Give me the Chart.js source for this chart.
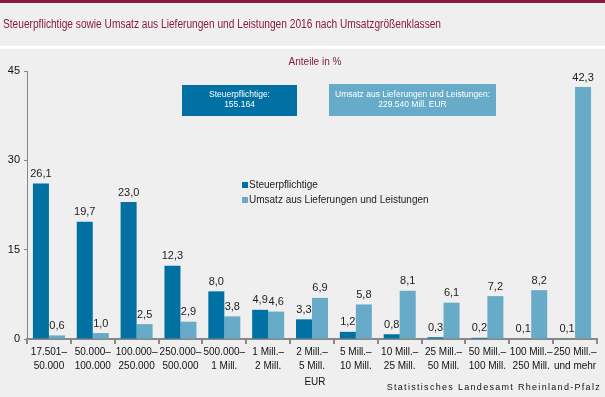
<!DOCTYPE html>
<html>
<head>
<meta charset="utf-8">
<script src="https://cdn.jsdelivr.net/npm/chart.js@4"></script>
<style>
  html, body { margin: 0; padding: 0; background: #eeefee; }
  #wrap { width: 605px; height: 397px; position: relative; }
</style>
</head>
<body>
<div id="wrap"><canvas id="umsatzChart"></canvas></div>
<script>
const categories = [
    ["17.501–", "50.000"], ["50.000–", "100.000"], ["100.000–", "250.000"],
    ["250.000–", "500.000"], ["500.000–", "1 Mill."], ["1 Mill.–", "2 Mill."],
    ["2 Mill.–", "5 Mill."], ["5 Mill.–", "10 Mill."], ["10 Mill.–", "25 Mill."],
    ["25 Mill.–", "50 Mill."], ["50 Mill.–", "100 Mill."], ["100 Mill.–", "250 Mill."],
    ["250 Mill.–", "und mehr"]
];
const steuerpflichtige = [26.1, 19.7, 23.0, 12.3, 8.0, 4.9, 3.3, 1.2, 0.8, 0.3, 0.2, 0.1, 0.1];
const umsatz = [0.6, 1.0, 2.5, 2.9, 3.8, 4.6, 6.9, 5.8, 8.1, 6.1, 7.2, 8.2, 42.3];
const yTicks = [0, 15, 30, 45];

const darkBlue = "#0071a2";
const lightBlue = "#67abc9";
const maroon = "#8a1c3c";

const fmt = v => v.toFixed(1).replace(".", ",");

// background, title, boxes, legend, source
const decor = {
    id: "decor",
    beforeDraw(chart) {
        const c = chart.ctx;
        c.save();
        c.fillStyle = "#eeefee";
        c.fillRect(0, 0, chart.width, chart.height);
        c.fillStyle = maroon;
        c.fillRect(0, 0, chart.width, 3);
        c.fillStyle = "#ffffff";
        c.fillRect(0, 46, chart.width, 3);
        c.restore();
    },
    afterDraw(chart) {
        const c = chart.ctx;
        c.save();
        c.textBaseline = "middle";
        c.fillStyle = maroon;
        c.font = "12.5px 'Liberation Sans', Arial";
        c.textAlign = "left";
        c.fillText("Steuerpflichtige sowie Umsatz aus Lieferungen und Leistungen 2016 nach Umsatzgrößenklassen", 3, 25, 438);
        c.font = "10px 'Liberation Sans', Arial";
        c.textAlign = "center";
        c.fillText("Anteile in %", 315, 62);

        // info boxes
        c.fillStyle = darkBlue;
        c.fillRect(182, 85, 115, 31);
        c.fillStyle = lightBlue;
        c.fillRect(329, 84, 167, 32);
        c.fillStyle = "#ffffff";
        c.font = "8.5px 'Liberation Sans', Arial";
        c.fillText("Steuerpflichtige:", 239.5, 95);
        c.fillText("155.164", 239.5, 105);
        c.fillText("Umsatz aus Lieferungen und Leistungen:", 412.5, 95);
        c.fillText("229.540 Mill. EUR", 412.5, 105);

        // legend
        c.textAlign = "left";
        c.font = "10px 'Liberation Sans', Arial";
        chart.data.datasets.forEach((ds, i) => {
            const y = 185 + i * 15;
            c.fillStyle = ds.backgroundColor;
            c.fillRect(242, y - 3, 6, 6);
            c.fillStyle = "#222";
            c.fillText(ds.label, 249, y);
        });

        c.fillStyle = "#111";
        c.font = "10px 'Liberation Sans', Arial";
        c.textAlign = "center";
        c.fillText("EUR", 315, 382);
        c.textAlign = "right";
        c.font = "9px 'Liberation Sans', Arial";
        c.letterSpacing = "1.3px";
        c.fillText("Statistisches Landesamt Rheinland-Pfalz", 601, 388);
        c.restore();
    }
};

// value labels above bars
const valueLabels = {
    id: "valueLabels",
    afterDatasetsDraw(chart) {
        const c = chart.ctx;
        c.save();
        c.fillStyle = "#222";
        c.font = "11px 'Liberation Sans', Arial";
        c.textAlign = "center";
        c.textBaseline = "bottom";
        chart.data.datasets.forEach((ds, i) => {
            chart.getDatasetMeta(i).data.forEach((bar, j) => {
                c.fillText(fmt(ds.data[j]), bar.x, bar.y - 4);
            });
        });
        c.restore();
    }
};

const ctx = document.getElementById("umsatzChart");

new Chart(ctx, {
    type: "bar",
    data: {
        labels: categories,
        datasets: [{
            label: "Steuerpflichtige",
            data: steuerpflichtige,
            backgroundColor: darkBlue
        }, {
            label: "Umsatz aus Lieferungen und Leistungen",
            data: umsatz,
            backgroundColor: lightBlue
        }]
    },
    options: {
        responsive: true,
        maintainAspectRatio: false,
        animation: false,
        categoryPercentage: 0.73,
        barPercentage: 1.0,
        layout: { padding: { top: 71, right: 8, bottom: 0, left: 0 } },
        plugins: {
            legend: { display: false },
            tooltip: { enabled: false }
        },
        scales: {
            x: {
                grid: { drawOnChartArea: false, color: "#888", tickLength: 5, lineWidth: 2 },
                border: { color: "#888", width: 2 },
                ticks: {
                    color: "#111",
                    font: { size: 10, family: "'Liberation Sans', Arial", lineHeight: 1.4 },
                    autoSkip: false,
                    maxRotation: 0,
                    padding: 1
                },
                afterFit(scale) { scale.height = 58; }
            },
            y: {
                min: 0,
                max: 45,
                afterBuildTicks(scale) { scale.ticks = yTicks.map(v => ({ value: v })); },
                grid: { drawOnChartArea: false, color: "#888", tickLength: 3, lineWidth: 1 },
                border: { color: "#888", width: 1 },
                ticks: {
                    color: "#111",
                    font: { size: 11, family: "'Liberation Sans', Arial" },
                    padding: 4
                },
                afterFit(scale) { scale.width = 27; }
            }
        }
    },
    plugins: [decor, valueLabels]
});
</script>
</body>
</html>
